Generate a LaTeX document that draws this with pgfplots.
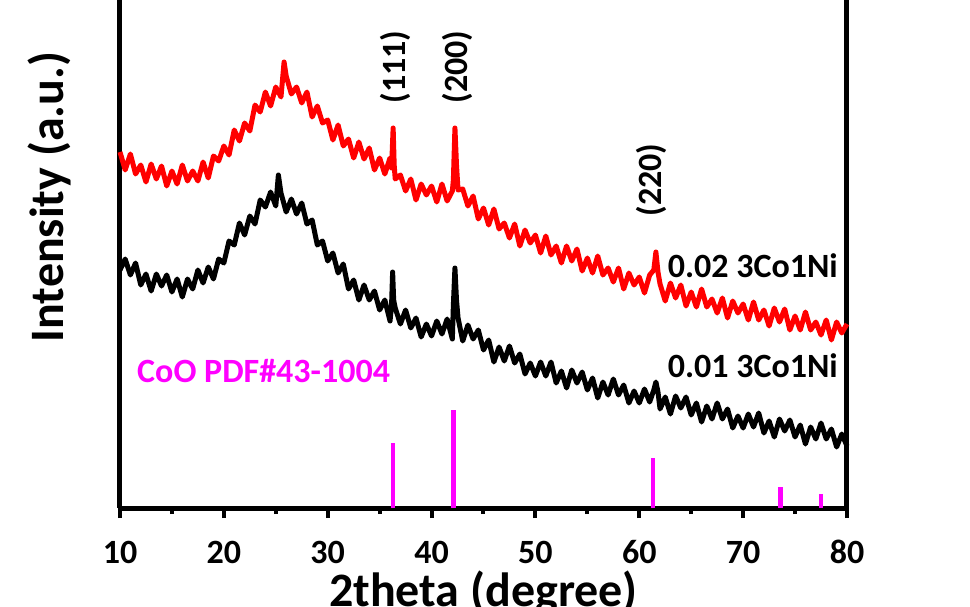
\documentclass[border=0pt]{standalone}
\usepackage{pgfplots}
\usepackage{pgfplotstable}
\pgfplotsset{compat=1.18}
\usepackage{fontspec}
\setmainfont{Carlito}
\definecolor{xmag}{RGB}{255,0,255}
\definecolor{xred}{RGB}{255,0,0}

% y values are pixel rows measured from the top of the reference image
\pgfplotstableread{
x y
10 270
10.5 259
11 275
11.5 263
12 285
12.5 274
13 291
13.5 274
14 286
14.5 275
15 292
15.5 279
16 297
16.5 279
17 289
17.5 270
18 283
18.5 267
19 279
19.5 259
20 263
20.5 241
21 245
21.5 223
22 235
22.5 216
23 224
23.5 200
24 207
24.5 192
25 206
25.25 175
25.5 193
26 212
26.5 199
27 214
27.5 203
28 224
28.5 220
29 245
29.5 241
30 261
30.5 253
31 273
31.5 264
32 289
32.5 280
33 300
33.5 285
34 300
34.5 291
35 310
35.5 300
36 321
36.15 305
36.25 272
36.35 300
36.5 308
37 324
37.5 310
38 328
38.5 318
39 337
39.5 324
40 336
40.5 321
41 334
41.5 319
42 339
42.1 305
42.25 268
42.4 300
42.55 318
43 341
43.5 325
44 339
44.5 330
45 350
45.5 340
46 362
46.5 347
47 361
47.5 346
48 363
48.5 354
49 374
49.5 363
50 376
50.5 362
51 376
51.5 362
52 383
52.5 371
53 388
53.5 370
54 383
54.5 372
55 390
55.5 378
56 398
56.5 382
57 395
57.5 379
58 395
58.5 385
59 403
59.5 391
60 403
60.5 389
61 402
61.4 390
61.6 382
61.8 392
62 409
62.5 397
63 414
63.5 396
64 408
64.5 397
65 415
65.5 403
66 422
66.5 406
67 419
67.5 403
68 419
68.5 409
69 428
69.5 416
70 428
70.5 414
71 427
71.5 413
72 433
72.5 421
73 437
73.5 419
74 431
74.5 420
75 437
75.5 425
76 444
76.5 427
77 439
77.5 423
78 439
78.5 429
79 447
79.5 434
80 446
}\blackdata

\pgfplotstableread{
x y
10 152
10.5 170
11 154
11.5 174
12 165
12.5 182
13 164
13.5 179
14 166
14.5 186
15 171
15.5 184
16 165
16.5 181
17 171
17.5 181
18 162
18.5 178
19 156
19.5 161
20 146
20.5 155
21 130
21.5 141
22 123
22.5 131
23 105
23.5 112
24 92
24.5 106
25 87
25.5 97
25.8 62
26 76
26.5 94
27 87
27.5 103
28 92
28.5 117
29 106
29.5 123
30 120
30.5 140
31 125
31.5 146
32 139
32.5 158
33 142
33.5 159
34 148
34.5 170
35 158
35.5 174
36 158
36.15 168
36.3 128
36.4 165
36.5 179
37 175
37.5 191
38 179
38.5 200
39 184
39.5 195
40 186
40.5 202
41 184
41.5 201
42 191
42.1 180
42.25 128
42.4 165
42.55 190
43 189
43.5 206
44 196
44.5 219
45 208
45.5 225
46 209
46.5 229
47 223
47.5 238
48 224
48.5 246
49 230
49.5 243
50 235
50.5 253
51 236
51.5 255
52 246
52.5 263
53 246
53.5 261
54 249
54.5 271
55 258
55.5 273
56 256
56.5 275
57 268
57.5 282
58 268
58.5 289
59 273
59.5 285
60 277
60.5 293
61 275
61.4 270
61.6 252
61.8 272
62 284
62.5 301
63 283
63.5 298
64 285
64.5 306
65 292
65.5 307
66 289
66.5 307
67 299
67.5 313
68 298
68.5 318
69 301
69.5 313
70 304
70.5 320
71 302
71.5 320
72 310
72.5 326
73 308
73.5 322
74 309
74.5 330
75 316
75.5 330
76 312
76.5 330
77 322
77.5 335
78 320
78.5 340
79 322
79.5 333
80 324
}\reddata

\pgfplotstableread{
x y
36.3 443
42.1 410
61.3 458
73.6 487
77.5 494
}\pdfdata

\newcommand{\tfont}{\fontsize{34pt}{40pt}\selectfont\bfseries}
\newcommand{\lfont}{\fontsize{48pt}{54pt}\selectfont\bfseries}

\begin{document}
\begin{tikzpicture}
\path[use as bounding box] (-120pt,-98pt) rectangle (850pt,508pt);
\begin{axis}[
  at={(0,0)}, anchor=south west,
  scale only axis,
  width=727pt, height=508pt,
  xmin=10, xmax=80, ymin=0, ymax=508,
  axis x line*=bottom, axis y line*=box,
  axis line style={line width=5pt},
  xtick={10,20,...,80},
  minor x tick num=1,
  ytick=\empty,
  tick align=outside,
  major tick length=10pt,
  minor tick length=6pt,
  every tick/.style={line width=4pt, black},
  /pgf/number format/assume math mode=true,
  xticklabel style={font=\tfont, anchor=base, yshift=-45pt, inner sep=1pt},
  xlabel={2theta (degree)},
  ylabel={Intensity (a.u.)},
  xlabel style={font=\lfont, at={(axis description cs:0.5,-0.193)}, anchor=base, inner sep=1pt},
  ylabel style={font=\lfont, at={(axis description cs:-0.0784,0.612)}, anchor=base},
  clip=false,
]
\addplot[xmag, line width=4.5pt, ycomb, no markers] table[x=x, y expr=508-\thisrow{y}] {\pdfdata};
\addplot[black, line width=5pt, no markers, line join=round] table[x=x, y expr=508-\thisrow{y}] {\blackdata};
\addplot[xred, line width=5pt, no markers, line join=round] table[x=x, y expr=508-\thisrow{y}] {\reddata};
\node[font=\tfont, rotate=90] at (axis cs:36.57,441) {(111)};
\node[font=\tfont, rotate=90] at (axis cs:42.54,441) {(200)};
\node[font=\tfont, rotate=90] at (axis cs:61.13,328) {(220)};
\node[font=\tfont, anchor=base east, inner sep=0pt] at (axis cs:79.13,231) {0.02 3Co1Ni};
\node[font=\tfont, anchor=base east, inner sep=0pt] at (axis cs:79.13,131) {0.01 3Co1Ni};
\node[font=\tfont, text=xmag, anchor=base west, inner sep=0pt] at (axis cs:11.64,126) {CoO PDF\#43-1004};
\end{axis}
\end{tikzpicture}
\end{document}
